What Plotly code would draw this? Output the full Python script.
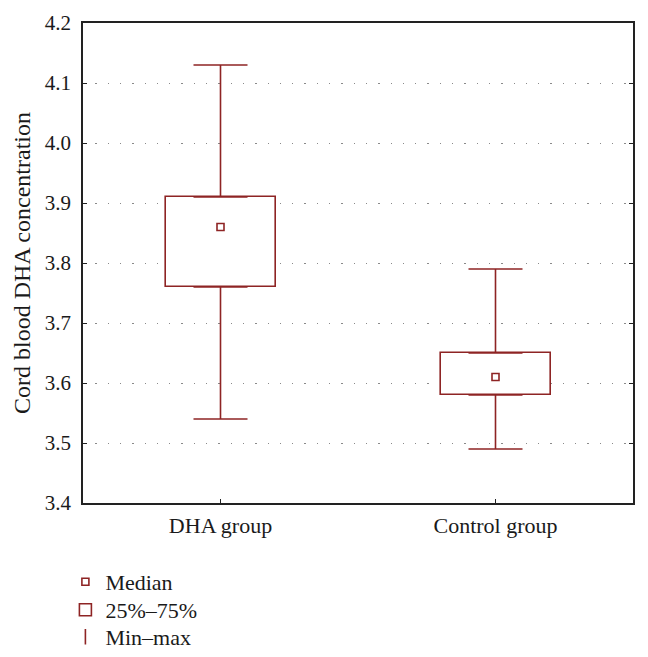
import plotly.graph_objects as go

categories = ["DHA group", "Control group"]
q1 = [3.76, 3.58]
q3 = [3.91, 3.65]
median = [3.86, 3.61]
vmin = [3.54, 3.49]
vmax = [4.13, 3.79]
y_ticks = [3.4, 3.5, 3.6, 3.7, 3.8, 3.9, 4.0, 4.1, 4.2]
y_ticklabels = ["3.4", "3.5", "3.6", "3.7", "3.8", "3.9", "4.0", "4.1", "4.2"]

RED = "#8E2424"
FONT = "Liberation Serif"
TXT = "#1a1a1a"

fig = go.Figure()

# upper whiskers (q3 -> max)
fig.add_trace(go.Scatter(
    x=categories, y=q3, mode="markers", marker=dict(size=0.1, color=RED, opacity=0),
    error_y=dict(type="data", symmetric=False,
                 array=[b - a for a, b in zip(q3, vmax)],
                 arrayminus=[0, 0], color=RED, thickness=1.6, width=27),
    showlegend=False, hoverinfo="skip"))
# lower whiskers (q1 -> min)
fig.add_trace(go.Scatter(
    x=categories, y=q1, mode="markers", marker=dict(size=0.1, color=RED, opacity=0),
    error_y=dict(type="data", symmetric=False, array=[0, 0],
                 arrayminus=[a - b for a, b in zip(q1, vmin)],
                 color=RED, thickness=1.6, width=27),
    showlegend=False, hoverinfo="skip"))

# boxes (25%-75%)
fig.add_trace(go.Bar(
    x=categories, y=[b - a for a, b in zip(q1, q3)], base=q1, width=0.4,
    marker=dict(color="white", line=dict(color=RED, width=1.6)),
    name="25%\u201375%", showlegend=True, legend="legend2"))

# median
fig.add_trace(go.Scatter(
    x=categories, y=median, mode="markers",
    marker=dict(symbol="square-open", size=7, color=RED, line=dict(width=1.6)),
    name="Median", legend="legend"))

# legend-only entry for min-max
fig.add_trace(go.Scatter(
    x=[None], y=[None], mode="markers",
    marker=dict(symbol="line-ns-open", size=11, color=RED, line=dict(width=1.6, color=RED)),
    name="Min\u2013max", legend="legend3"))

leg = dict(x=-0.032, xanchor="left", yanchor="middle",
           font=dict(family=FONT, size=22, color=TXT),
           itemwidth=30, bgcolor="rgba(0,0,0,0)")

fig.update_layout(
    width=640, height=649,
    margin=dict(l=75, r=15, t=15, b=154, autoexpand=False),
    paper_bgcolor="white", plot_bgcolor="white",
    font=dict(family=FONT, size=21, color=TXT),
    bargap=0,
    legend=dict(leg, y=-0.1646),
    legend2=dict(leg, y=-0.2229),
    legend3=dict(leg, y=-0.2792),
)

fig.update_xaxes(
    type="category", range=[-0.5, 1.5], automargin=False,
    showline=True, linecolor="#222", linewidth=1.6, mirror=True,
    ticks="inside", ticklen=4, tickcolor="#222",
    showgrid=False, tickfont=dict(family=FONT, size=22, color=TXT),
    ticklabelstandoff=2,
)
fig.update_yaxes(
    range=[3.4, 4.2], tickvals=y_ticks, ticktext=y_ticklabels, automargin=False,
    showline=True, linecolor="#222", linewidth=1.6, mirror="ticks",
    ticks="inside", ticklen=4, tickcolor="#222",
    showgrid=True, gridcolor="#8a8a8a", gridwidth=1.3, griddash="1.3px,11px",
    zeroline=False, tickfont=dict(family=FONT, size=21, color=TXT),
    ticklabelstandoff=6,
    title=dict(text="Cord blood DHA concentration", font=dict(family=FONT, size=24, color=TXT), standoff=7),
)

fig.write_html("out.html")
